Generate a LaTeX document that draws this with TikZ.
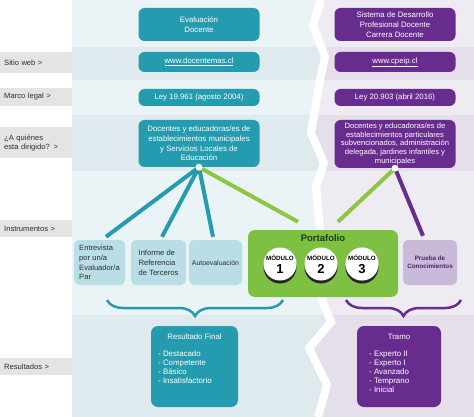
\documentclass[tikz,border=0pt]{standalone}
\usepackage{fontspec}
\setmainfont{Liberation Sans}
\usepackage{tikz}
\usetikzlibrary{positioning,shadows,decorations.pathreplacing}

\definecolor{cTeal}{RGB}{37,155,175}
\definecolor{cPurple}{RGB}{104,44,142}
\definecolor{cLime}{RGB}{141,198,63}
\definecolor{cGreen}{RGB}{125,192,66}
\definecolor{cGreenDark}{RGB}{30,60,25}
\definecolor{cTealLight}{RGB}{185,222,230}
\definecolor{cPurpleLight}{RGB}{200,186,216}
\definecolor{cPurpleDark}{RGB}{70,40,100}
\definecolor{cLabel}{RGB}{228,228,228}
\definecolor{cText}{RGB}{45,45,45}
\definecolor{cBgLa}{RGB}{234,243,246}
\definecolor{cBgLb}{RGB}{223,234,238}
\definecolor{cBgRa}{RGB}{238,235,242}
\definecolor{cBgRb}{RGB}{228,223,234}

\begin{document}
\begin{tikzpicture}[
    x=1pt, y=-1pt,
    every node/.style={font=\fontsize{7.8}{9.8}\selectfont},
    mainbox/.style={
        rectangle,
        rounded corners=6pt,
        text=white,
        minimum width=121pt,
        inner sep=1pt,
        align=center
    },
    lblbox/.style={
        rectangle,
        fill=cLabel,
        text=cText,
        anchor=west,
        inner xsep=4pt,
        text width=64pt,
        align=left,
        font=\fontsize{7.6}{9.5}\selectfont
    },
    instbox/.style={
        rectangle,
        rounded corners=5pt,
        text=cText,
        minimum height=45pt,
        inner sep=2pt,
        align=left,
        font=\fontsize{7.6}{9.8}\selectfont
    },
    resbox/.style={
        rectangle,
        rounded corners=7pt,
        minimum width=87pt,
        minimum height=81pt
    },
    restext/.style={
        text=white,
        align=left,
        anchor=north west,
        inner sep=0pt,
        font=\fontsize{7.9}{9}\selectfont
    },
    modcircle/.style={
        circle,
        fill=white,
        minimum size=33pt,
        inner sep=0pt,
        align=center,
        drop shadow={shadow xshift=0pt, shadow yshift=-3pt, fill=black!85, opacity=1}
    },
    link/.style={line width=4pt},
    bracket/.style={decorate, decoration={brace, mirror, amplitude=16pt}, line width=2.5pt}
]
\useasboundingbox (0,0) rectangle (474,417);

% Background bands
\fill[white] (0,0) rectangle (474,417);
\foreach \ya/\yb/\c in {0/47/cBgLa, 47/80/cBgLb, 80/115/cBgLa, 115/171/cBgLb, 171/315/cBgLa, 315/417/cBgLb}
    \fill[\c] (72,\ya) rectangle (474,\yb);
\foreach \sx/\sy [count=\k] in {321/0, 313/25, 325/57, 320/80, 311/133, 324/163, 316/187, 321/240, 322/300, 331/322, 309/348, 327/385, 318/417}
    \coordinate (s\k) at (\sx,\sy);
\begin{scope}
    \clip (474,0) -- (s1) \foreach \k in {2,...,13}{-- (s\k)} -- (474,417) -- cycle;
    \foreach \ya/\yb/\c in {0/47/cBgRa, 47/80/cBgRb, 80/115/cBgRa, 115/171/cBgRb, 171/315/cBgRa, 315/417/cBgRb}
        \fill[\c] (300,\ya) rectangle (474,\yb);
\end{scope}
\draw[white, line width=8pt] (s1) \foreach \k in {2,...,13}{-- (s\k)};

% Row labels
\node[lblbox, minimum height=21pt] (lblWeb)  at (0,62.5)  {Sitio web >};
\node[lblbox, minimum height=18pt] (lblLey)  at (0,97)    {Marco legal >};
\node[lblbox, minimum height=31pt] (lblDir)  at (0,143)   {¿A quiénes\\esta dirigido? >};
\node[lblbox, minimum height=17pt] (lblInst) at (0,228.5) {Instrumentos >};
\node[lblbox, minimum height=17pt] (lblRes)  at (0,366.5) {Resultados >};

% Upper boxes
\node[mainbox, fill=cTeal, minimum height=33pt]   (evalDoc)    at (199,24.5) {Evaluación\\Docente};
\node[mainbox, fill=cPurple, minimum height=33pt] (sisDoc)     at (395,24.5) {Sistema de Desarrollo\\Profesional Docente\\Carrera Docente};
\node[mainbox, fill=cTeal, minimum height=20pt]   (webEval)    at (199,62)   {\underline{www.docentemas.cl}};
\node[mainbox, fill=cPurple, minimum height=20pt] (webCarrera) at (395,62)   {\underline{www.cpeip.cl}};
\node[mainbox, fill=cTeal, minimum height=17pt]   (leyEval)    at (199,97.5) {Ley 19.961 (agosto 2004)};
\node[mainbox, fill=cPurple, minimum height=17pt] (leyCarrera) at (395,97.5) {Ley 20.903 (abril 2016)};
\node[mainbox, fill=cTeal, minimum height=47pt]   (dirEval)    at (199,143.5)
    {Docentes y educadoras/es de\\establecimientos municipales\\y Servicios Locales de\\Educación};
\node[mainbox, fill=cPurple, minimum height=48pt, font=\fontsize{7.6}{8.8}\selectfont] (dirCarrera) at (395,144)
    {Docentes y educadoras/es de\\establecimientos particulares\\subvencionados, administración\\delegada, jardines infantiles y\\municipales};

% Instruments
\node[instbox, fill=cTealLight, minimum width=51pt] (entrevista) at (99.5,262.5) {Entrevista\\por un/a\\Evaluador/a\\Par};
\node[instbox, fill=cTealLight, minimum width=55pt] (informe)    at (158.5,262.5) {Informe de\\Referencia\\de Terceros};
\node[instbox, fill=cTealLight, minimum width=53pt, font=\fontsize{6.9}{8}\selectfont] (autoeval) at (215.5,262.5) {Autoevaluación};
\node[instbox, fill=cPurpleLight, minimum width=54pt, text=cPurpleDark, align=center,
      font=\bfseries\fontsize{6.3}{8}\selectfont] (prueba) at (430,262.5) {Prueba de\\Conocimientos};
\node[rectangle, rounded corners=7pt, fill=cGreen, minimum width=150pt, minimum height=67pt] (portafolio) at (323,263.5) {};
\node[below=1pt of portafolio.north, text=cGreenDark, font=\bfseries\fontsize{9.5}{11}\selectfont] (portaTitle) {Portafolio};
\foreach \i/\x in {1/280, 2/321, 3/362}
    \node[modcircle] (mod\i) at (\x,264)
        {{\bfseries\fontsize{6.2}{7}\selectfont MÓDULO}\\[3pt]{\bfseries\fontsize{13}{13}\selectfont \i}};

% Links
\draw[link, cTeal] (dirEval.south) -- ([xshift=6.5pt, yshift=3pt]entrevista.north);
\draw[link, cTeal] (dirEval.south) -- ([xshift=3.5pt, yshift=3pt]informe.north);
\draw[link, cTeal] (dirEval.south) -- ([xshift=-2.5pt, yshift=3pt]autoeval.north);
\draw[link, cLime] (dirEval.south) -- ([xshift=-25pt, yshift=8pt]portafolio.north);
\draw[link, cLime] (dirCarrera.south) -- ([xshift=15pt, yshift=8pt]portafolio.north);
\draw[link, cPurple] (dirCarrera.south) -- ([xshift=-7pt, yshift=4pt]prueba.north);
\fill[white] (dirEval.south) circle (3.5pt);
\fill[white] (dirCarrera.south) circle (3.5pt);

% Braces
\coordinate (braceEvalA) at (107,300);
\coordinate (braceEvalB) at (283,300);
\coordinate (braceCarreraA) at (346,300);
\coordinate (braceCarreraB) at (461,300);
\draw[bracket, cTeal] (braceEvalA) -- (braceEvalB);
\draw[bracket, cPurple] (braceCarreraA) -- (braceCarreraB);

% Results
\node[resbox, fill=cTeal] (resFinal) at (194.5,366.5) {};
\node[text=white] (resFinalTitle) at (194.5,337) {Resultado Final};
\node[restext] (resFinalList) at (158,351) {- Destacado\\- Competente\\- Básico\\- Insatisfactorio};
\node[resbox, fill=cPurple, minimum width=84pt] (tramo) at (399,366.5) {};
\node[text=white] (tramoTitle) at (399,337) {Tramo};
\node[restext] (tramoList) at (369,351) {- Experto II\\- Experto I\\- Avanzado\\- Temprano\\- Inicial};

\end{tikzpicture}
\end{document}
